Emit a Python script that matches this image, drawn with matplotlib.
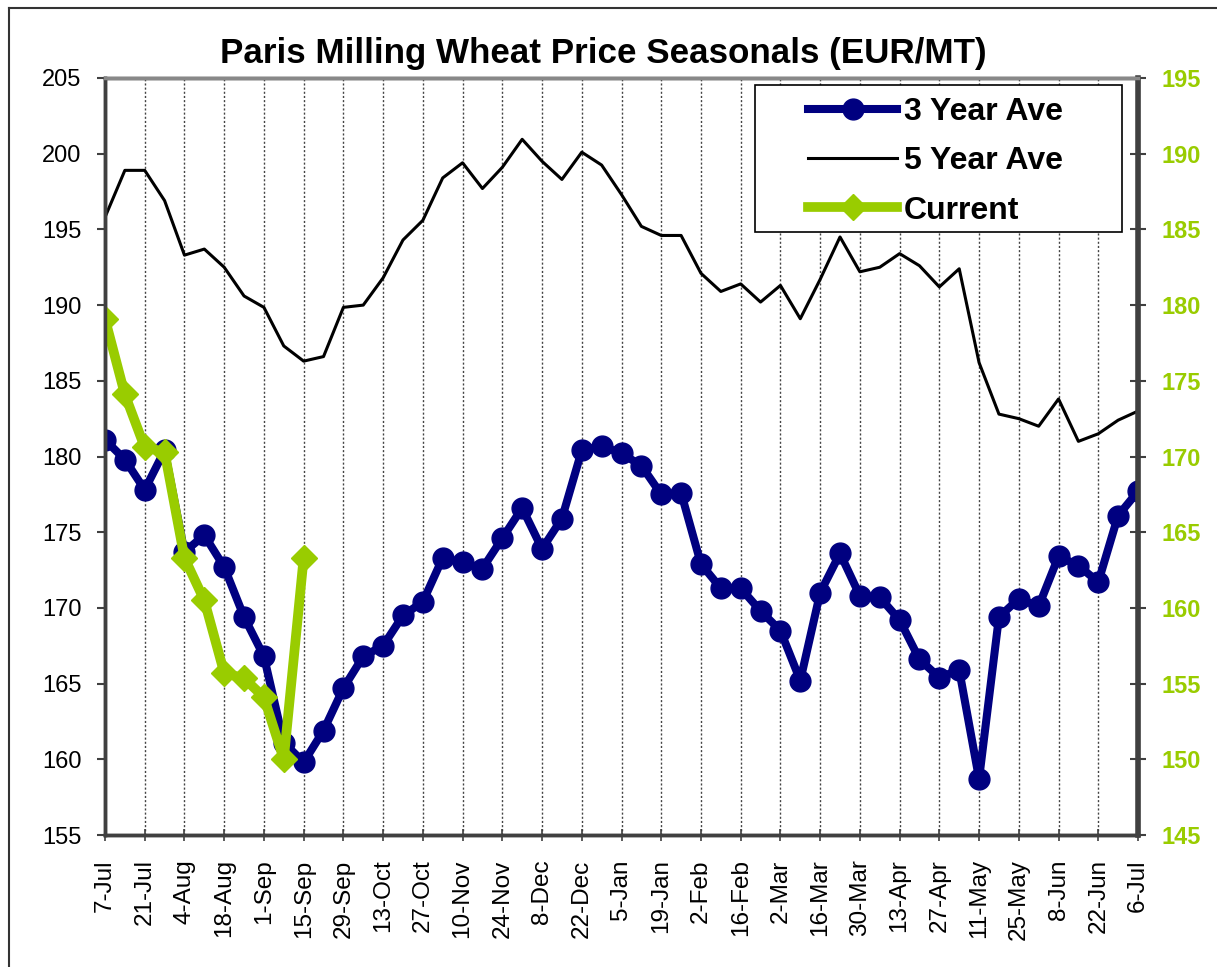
import matplotlib
matplotlib.use("Agg")
import matplotlib.pyplot as plt
from matplotlib.lines import Line2D
from matplotlib.patches import Rectangle

plt.rcParams["font.family"] = ["Liberation Sans", "DejaVu Sans"]

# weekly seasonal data, 7-Jul through 6-Jul (53 weeks)
week_labels = ["7-Jul", "21-Jul", "4-Aug", "18-Aug", "1-Sep", "15-Sep", "29-Sep",
               "13-Oct", "27-Oct", "10-Nov", "24-Nov", "8-Dec", "22-Dec", "5-Jan",
               "19-Jan", "2-Feb", "16-Feb", "2-Mar", "16-Mar", "30-Mar", "13-Apr",
               "27-Apr", "11-May", "25-May", "8-Jun", "22-Jun", "6-Jul"]

three_year = [181.1, 179.8, 177.8, 180.4, 173.7, 174.8, 172.7, 169.4, 166.8, 161.1,
              159.8, 161.9, 164.7, 166.8, 167.5, 169.5, 170.4, 173.3, 173.0, 172.6,
              174.6, 176.6, 173.9, 175.9, 180.4, 180.7, 180.2, 179.4, 177.5, 177.6,
              172.9, 171.3, 171.3, 169.8, 168.5, 165.2, 171.0, 173.6, 170.8, 170.7,
              169.2, 166.6, 165.4, 165.9, 158.7, 169.4, 170.6, 170.1, 173.4, 172.8,
              171.7, 176.1, 177.7]

five_year = [195.8, 198.9, 198.9, 196.9, 193.3, 193.7, 192.5, 190.6, 189.85, 187.3,
             186.3, 186.6, 189.85, 190.0, 191.8, 194.3, 195.6, 198.4, 199.4, 197.7,
             199.1, 200.95, 199.5, 198.3, 200.1, 199.25, 197.3, 195.2, 194.6, 194.6,
             192.1, 190.9, 191.4, 190.2, 191.3, 189.1, 191.7, 194.5, 192.2, 192.5,
             193.4, 192.6, 191.2, 192.4, 186.2, 182.8, 182.5, 182.0, 183.8, 181.0,
             181.5, 182.4, 183.0]

# current season, plotted on the right axis
current = [179.1, 174.1, 170.6, 170.3, 163.3, 160.5, 155.7, 155.35, 154.1, 150.0, 163.3]

NAVY = "#000080"
LIME = "#99CC00"
SPINE = "#404040"

weeks = list(range(len(three_year)))
tick_pos = list(range(0, len(three_year), 2))

fig = plt.figure(figsize=(12.17, 9.67), dpi=100)
ax = fig.add_axes([105 / 1217, 1 - 835 / 967, 1033 / 1217, 757 / 967])
ax2 = ax.twinx()

l5, = ax.plot(weeks, five_year, color="black", lw=2.2, label="5 Year Ave")
l3, = ax.plot(weeks, three_year, color=NAVY, lw=5.8, marker="o", ms=15,
              label="3 Year Ave")
lc, = ax2.plot(range(len(current)), current, color=LIME, lw=7, marker="D", ms=13,
               label="Current")

ax.set_xlim(0, len(three_year) - 1)
ax.set_ylim(155, 205)
ax2.set_ylim(145, 195)
ax.set_yticks(range(155, 206, 5))
ax2.set_yticks(range(145, 196, 5))
ax.set_xticks(tick_pos)
ax.set_xticklabels(week_labels, rotation=90)

ax.grid(axis="x", color="#444444", lw=1.0, linestyle=(0, (1.5, 1.5)))
ax.set_axisbelow(True)

ax.tick_params(axis="y", direction="out", length=6, width=1.5, pad=11,
               labelsize=17, color=SPINE)
ax.tick_params(axis="x", direction="inout", length=9, width=1.2, pad=13,
               labelsize=17.5, color=SPINE)
ax2.tick_params(axis="y", direction="inout", length=12, width=1.5, pad=11,
                labelsize=17, labelcolor=LIME, color=SPINE)
for t in ax2.get_yticklabels():
    t.set_fontweight("bold")

for a in (ax, ax2):
    for s in a.spines.values():
        s.set_color(SPINE)
        s.set_linewidth(2.5)
ax2.spines["top"].set_color("#888888")
ax2.spines["right"].set_linewidth(4)

# legend box drawn separately so it can be wider than its contents
ax2.add_patch(Rectangle((0.629, 0.7966), 0.3555, 0.1942, transform=ax2.transAxes,
                        facecolor="white", edgecolor="black", lw=1.2, zorder=4))
leg = ax2.legend(handles=[l3, l5, lc], loc="center left",
                 bbox_to_anchor=(0.6805, 0.8897), borderaxespad=0, borderpad=0,
                 prop={"weight": "bold", "size": 23}, frameon=False,
                 handlelength=2.8, labelspacing=0.6, handletextpad=0.2)
leg.set_zorder(5)

fig.text(603.5 / 1217, 1 - 63 / 967, "Paris Milling Wheat Price Seasonals (EUR/MT)",
         ha="center", va="baseline", fontsize=25.2, fontweight="bold")

# outer frame of the original chart image
fig.add_artist(Line2D([9 / 1217, 1], [1 - 8 / 967, 1 - 8 / 967], color="#333333", lw=1.5))
fig.add_artist(Line2D([9 / 1217, 9 / 1217], [0, 1 - 8 / 967], color="#333333", lw=1.5))

fig.savefig("out.png", dpi=100)
